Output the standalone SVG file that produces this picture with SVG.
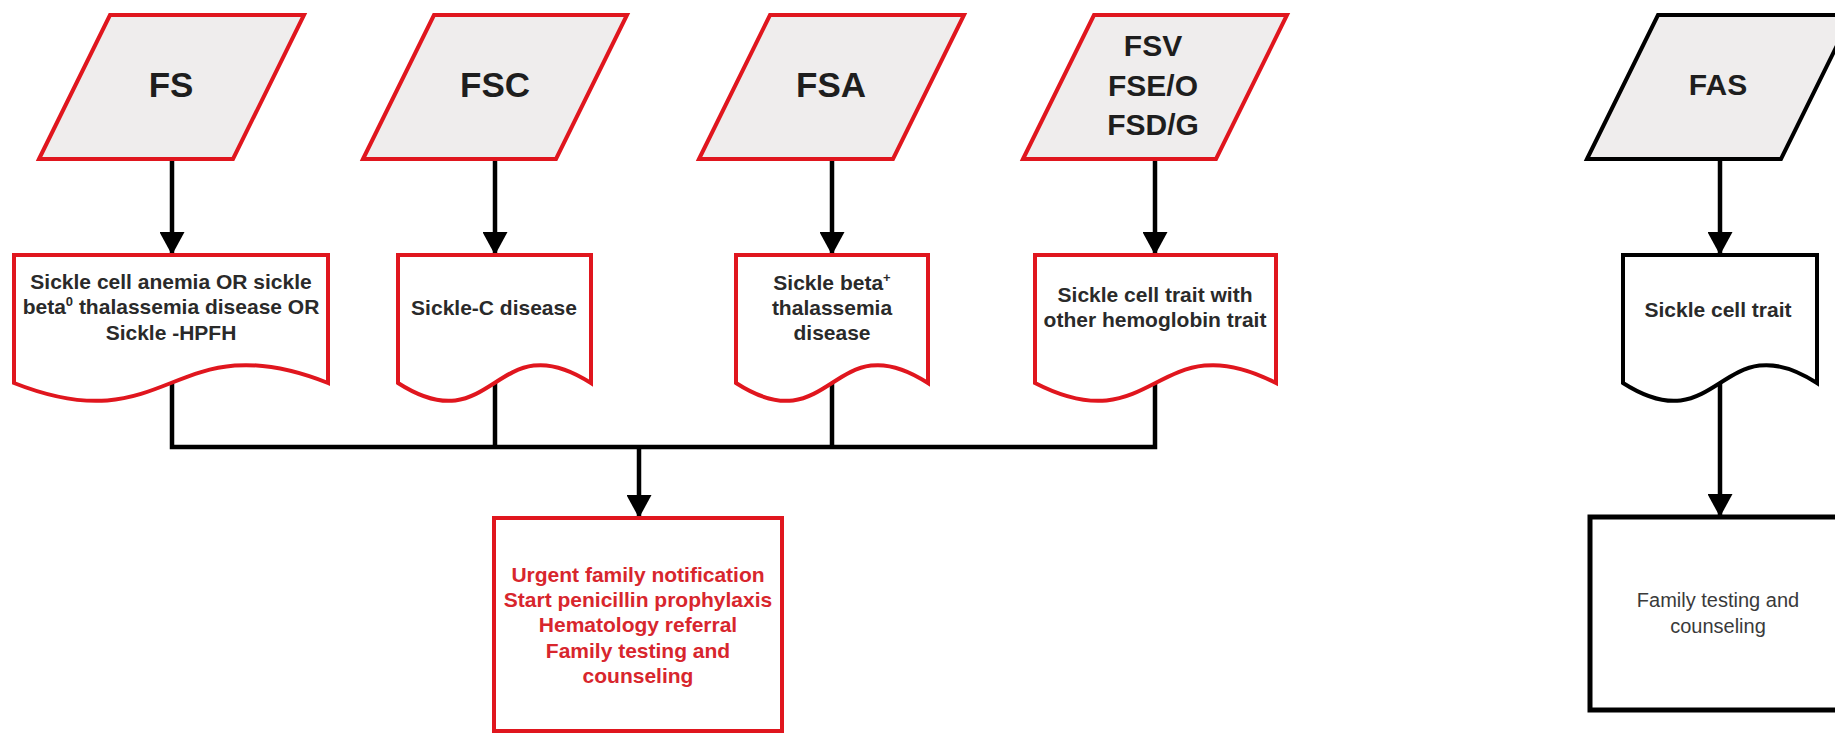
<svg xmlns="http://www.w3.org/2000/svg" width="1835" height="734" viewBox="0 0 1835 734">
<style>
  .para-red { fill: #efeded; stroke: #e0161e; stroke-width: 4; stroke-linejoin: miter; }
  .para-blk { fill: #efeded; stroke: #000; stroke-width: 4; stroke-linejoin: miter; }
  .doc-red { fill: #fff; stroke: #e0161e; stroke-width: 4; stroke-linejoin: miter; }
  .doc-blk { fill: #fff; stroke: #000; stroke-width: 4; stroke-linejoin: miter; }
  .box-red { fill: #fff; stroke: #e0161e; stroke-width: 4; }
  .box-blk { fill: #fff; stroke: #000; stroke-width: 5; }
  .lbl { font-family: "Liberation Sans", Arial, sans-serif; font-weight: bold; fill: #1e1e1e; text-anchor: middle; }
  .big { font-size: 35px; }
  .mid { font-size: 30px; }
  .doc { font-family: "Liberation Sans", Arial, sans-serif; font-weight: bold; font-size: 21px; fill: #2a2a2a; text-anchor: middle; }
  .redtxt { font-family: "Liberation Sans", Arial, sans-serif; font-weight: bold; font-size: 21px; fill: #d8262d; text-anchor: middle; }
  .plain { font-family: "Liberation Sans", Arial, sans-serif; font-size: 20px; fill: #3a3a3a; text-anchor: middle; }
  .conn { fill: none; stroke: #000; stroke-width: 4.5; }
</style>
<defs>
  <marker id="arr" viewBox="0 0 23 25" refX="23" refY="12.5" markerWidth="23" markerHeight="25" markerUnits="userSpaceOnUse" orient="auto">
    <path d="M0,0 L23,12.5 L0,25 Z" fill="#000"/>
  </marker>
</defs>
<rect width="1835" height="734" fill="#fff"/>

<g id="connectors">
  <line class="conn" x1="172" y1="159" x2="172" y2="255" marker-end="url(#arr)"/>
  <line class="conn" x1="495" y1="159" x2="495" y2="255" marker-end="url(#arr)"/>
  <line class="conn" x1="832" y1="159" x2="832" y2="255" marker-end="url(#arr)"/>
  <line class="conn" x1="1155" y1="159" x2="1155" y2="255" marker-end="url(#arr)"/>
  <path class="conn" d="M172,383 V447 H1155 V383"/>
  <path class="conn" d="M495,383 V447"/>
  <path class="conn" d="M832,383 V447"/>
  <line class="conn" x1="639" y1="447" x2="639" y2="518" marker-end="url(#arr)"/>
  <line class="conn" x1="1720" y1="159" x2="1720" y2="255" marker-end="url(#arr)"/>
  <line class="conn" x1="1720" y1="383" x2="1720" y2="517" marker-end="url(#arr)"/>
</g>

<g id="node-fs">
  <polygon class="para-red" points="39,159 110,15 304,15 233,159"/>
  <text class="lbl big" x="171" y="97">FS</text>
</g>
<g id="node-fsc">
  <polygon class="para-red" points="363,159 434,15 627,15 556,159"/>
  <text class="lbl big" x="495" y="97">FSC</text>
</g>
<g id="node-fsa">
  <polygon class="para-red" points="699,159 770,15 964,15 893,159"/>
  <text class="lbl big" x="831" y="97">FSA</text>
</g>
<g id="node-fsv">
  <polygon class="para-red" points="1023,159 1094,15 1287,15 1216,159"/>
  <text class="lbl mid" x="1153" y="56">FSV</text>
  <text class="lbl mid" x="1153" y="96">FSE/O</text>
  <text class="lbl mid" x="1153" y="135">FSD/G</text>
</g>
<g id="node-fas">
  <polygon class="para-blk" points="1587,159 1658,15 1852,15 1781,159"/>
  <text class="lbl mid" x="1718" y="95">FAS</text>
</g>

<g id="doc-fs">
  <path class="doc-red" d="M14,255 H328 V383 C171,321 171,445 14,383 Z"/>
  <text class="doc" x="171" y="289">Sickle cell anemia OR sickle</text>
  <text class="doc" x="171" y="314">beta<tspan font-size="13" dy="-8">0</tspan><tspan dy="8"> thalassemia disease OR</tspan></text>
  <text class="doc" x="171" y="340">Sickle -HPFH</text>
</g>
<g id="doc-fsc">
  <path class="doc-red" d="M398,255 H591 V383 C494.5,321 494.5,445 398,383 Z"/>
  <text class="doc" x="494" y="315">Sickle-C disease</text>
</g>
<g id="doc-fsa">
  <path class="doc-red" d="M736,255 H928 V383 C832,321 832,445 736,383 Z"/>
  <text class="doc" x="832" y="290">Sickle beta<tspan font-size="13" dy="-8">+</tspan></text>
  <text class="doc" x="832" y="315">thalassemia</text>
  <text class="doc" x="832" y="340">disease</text>
</g>
<g id="doc-fsv">
  <path class="doc-red" d="M1035,255 H1276 V383 C1155.5,321 1155.5,445 1035,383 Z"/>
  <text class="doc" x="1155" y="302">Sickle cell trait with</text>
  <text class="doc" x="1155" y="327">other hemoglobin trait</text>
</g>
<g id="doc-fas">
  <path class="doc-blk" d="M1623,255 H1817 V383 C1720,321 1720,445 1623,383 Z"/>
  <text class="doc" x="1718" y="317">Sickle cell trait</text>
</g>

<g id="action-urgent">
  <rect class="box-red" x="494" y="518" width="288" height="213"/>
  <text class="redtxt" x="638" y="582">Urgent family notification</text>
  <text class="redtxt" x="638" y="607">Start penicillin prophylaxis</text>
  <text class="redtxt" x="638" y="632">Hematology referral</text>
  <text class="redtxt" x="638" y="658">Family testing and</text>
  <text class="redtxt" x="638" y="683">counseling</text>
</g>
<g id="action-family">
  <rect class="box-blk" x="1590" y="517" width="262" height="193"/>
  <text class="plain" x="1718" y="607">Family testing and</text>
  <text class="plain" x="1718" y="633">counseling</text>
</g>
</svg>
